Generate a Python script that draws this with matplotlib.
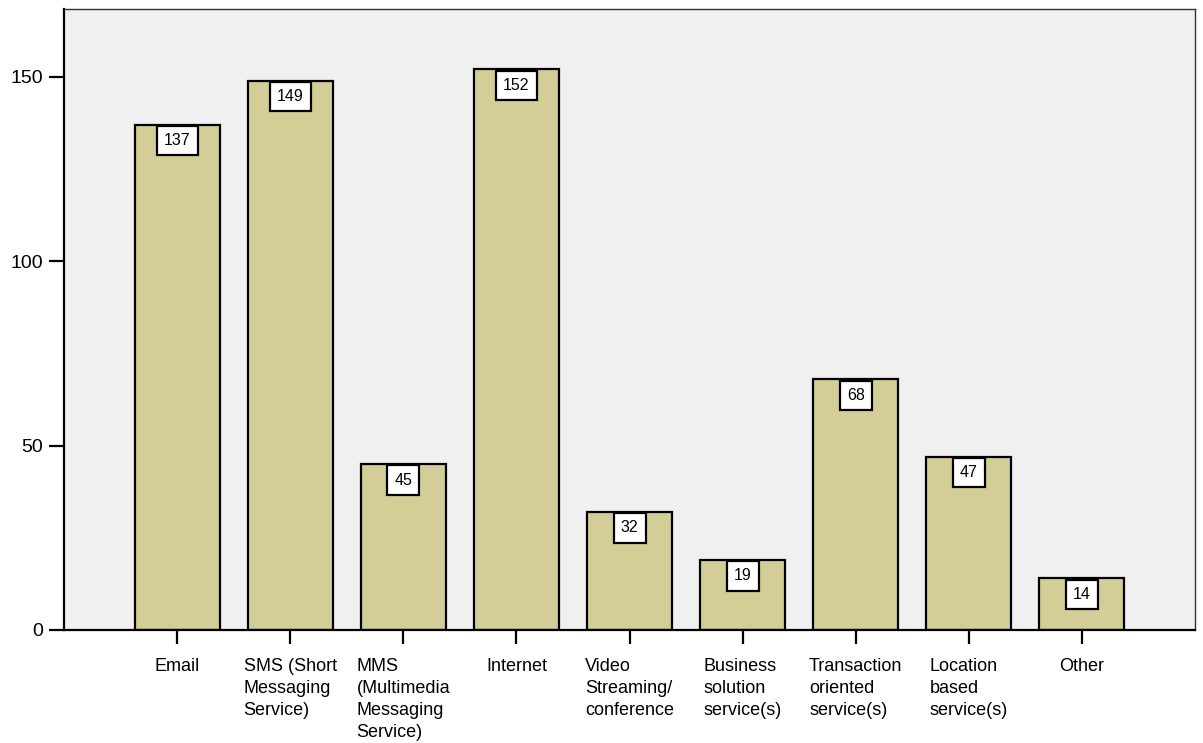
import matplotlib
matplotlib.use("Agg")
import matplotlib.pyplot as plt

categories = ["Email", "SMS (Short\nMessaging\nService)", "MMS\n(Multimedia\nMessaging\nService)",
              "Internet", "Video\nStreaming/\nconference", "Business\nsolution\nservice(s)",
              "Transaction\noriented\nservice(s)", "Location\nbased\nservice(s)", "Other"]
counts = [137, 149, 45, 152, 32, 19, 68, 47, 14]
y_ticks = [0, 50, 100, 150]

plt.rcParams["font.family"] = ["Liberation Sans", "DejaVu Sans"]

fig = plt.figure(figsize=(12.03, 7.43), dpi=100)
ax = fig.add_axes([64 / 1203, 113 / 743, 1131 / 1203, 621 / 743])
ax.set_facecolor("#f0f0f0")

x = list(range(len(counts)))
ax.bar(x, counts, width=0.75, color="#d3ce98", edgecolor="black", linewidth=1.6, zorder=2)

# value boxes hang from the top of each bar
for i, v in zip(x, counts):
    ax.annotate(str(v), xy=(i, v), xytext=(0, -16), textcoords="offset pixels",
                ha="center", va="center", fontsize=11.5, zorder=3,
                bbox=dict(boxstyle="square,pad=0.45", fc="white", ec="black", lw=1.6))

ax.set_xlim(-1, len(counts))
ax.set_ylim(0, 168.4)
ax.set_yticks(y_ticks)
ax.set_yticklabels([str(t) for t in y_ticks], fontsize=14)
ax.set_xticks(x)
ax.set_xticklabels(categories, fontsize=13, multialignment="left", linespacing=1.38)
ax.tick_params(axis="y", length=11, width=1.6, pad=4)
ax.tick_params(axis="x", length=10, width=1.6, pad=10)

for side in ["left", "bottom"]:
    ax.spines[side].set_linewidth(1.6)
for side in ["top", "right"]:
    ax.spines[side].set_linewidth(1.0)
    ax.spines[side].set_color("#333333")

fig.savefig("out.png", dpi=100)
